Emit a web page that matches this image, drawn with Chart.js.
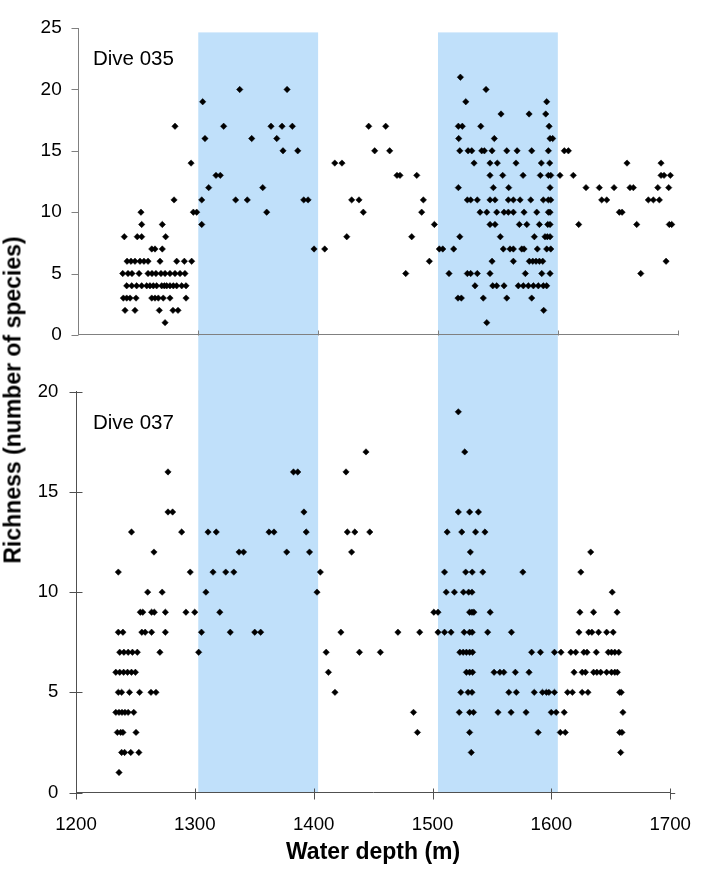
<!DOCTYPE html>
<html><head><meta charset="utf-8">
<script src="https://cdn.jsdelivr.net/npm/chart.js@4.4.1/dist/chart.umd.min.js"></script>
<style>
html,body{margin:0;padding:0;background:#fff;}
#wrap{position:relative;width:712px;height:870px;overflow:hidden;font-family:'Liberation Sans',Arial,sans-serif;}
canvas{position:absolute;left:0;}
#c1{top:0;} #c2{top:363px;}
.lbl{position:absolute;font-size:20.5px;line-height:1;color:#000;white-space:nowrap;}
#ytitle{position:absolute;font-weight:bold;font-size:23px;line-height:1;white-space:nowrap;color:#000;
  left:13px;top:400px;transform:translate(-50%,-50%) rotate(-90deg);}
</style></head><body>
<div id="wrap">
<canvas id="c1" width="712" height="363"></canvas>
<canvas id="c2" width="712" height="507"></canvas>
<div class="lbl" style="left:93px;top:47.6px">Dive 035</div>
<div class="lbl" style="left:93px;top:411.6px">Dive 037</div>
<div id="ytitle">Richness (number of species)</div>
</div>
<script>
// ---------- data ----------
const xTicks = [1200, 1300, 1400, 1500, 1600, 1700];
const yTicks035 = [0, 5, 10, 15, 20, 25];
const yTicks037 = [0, 5, 10, 15, 20];
const shadedDepths = [[1300, 1400], [1500, 1600]];

// Dive 035: richness levels and water depths (m) observed at each level
const dive035Richness = [1, 2, 3, 4, 5, 6, 7, 8, 9, 10, 11, 12, 13, 14, 15, 16, 17, 18, 19, 20, 21];
const dive035Depths = [
  [1272.3, 1540.7],
  [1238.9, 1247.2, 1267.5, 1278.9, 1283.1, 1588.2],
  [1237.5, 1240.3, 1243.1, 1248.1, 1261.2, 1263.9, 1266.7, 1270.8, 1276.4, 1289.8, 1516.7, 1519.5, 1537.8, 1557.4, 1578.2],
  [1240.3, 1244.5, 1248.6, 1252.8, 1257.0, 1259.7, 1262.5, 1265.3, 1269.5, 1271.7, 1273.7, 1276.4, 1279.2, 1282.0, 1286.2, 1289.8, 1530.9, 1545.7, 1549.0, 1555.1, 1567.0, 1571.2, 1575.4, 1579.6, 1583.7, 1587.9, 1590.7],
  [1237.0, 1241.4, 1244.7, 1250.6, 1258.1, 1261.4, 1264.7, 1268.9, 1272.3, 1276.4, 1280.6, 1284.8, 1288.9, 1473.1, 1509.2, 1524.5, 1527.3, 1532.8, 1543.4, 1572.9, 1586.6, 1593.5, 1669.2],
  [1240.6, 1243.9, 1247.2, 1251.4, 1254.7, 1258.1, 1268.1, 1282.0, 1288.4, 1294.5, 1492.8, 1545.1, 1562.9, 1576.2, 1579.1, 1581.8, 1584.6, 1587.4, 1690.3],
  [1261.2, 1263.9, 1270.0, 1396.6, 1405.5, 1501.1, 1504.0, 1513.1, 1554.5, 1560.1, 1562.9, 1569.9, 1571.8, 1582.9, 1590.7, 1594.1],
  [1238.3, 1249.1, 1252.8, 1272.8, 1423.9, 1478.1, 1518.2, 1552.0, 1580.4, 1589.3, 1591.2, 1593.5],
  [1252.8, 1270.0, 1302.9, 1497.0, 1543.4, 1547.6, 1567.9, 1574.1, 1584.6, 1591.6, 1593.5, 1617.4, 1665.8, 1693.0, 1695.0],
  [1252.2, 1295.9, 1298.7, 1357.1, 1437.7, 1486.4, 1535.1, 1540.7, 1549.0, 1555.1, 1558.7, 1562.9, 1571.8, 1582.4, 1592.1, 1593.5, 1651.3, 1653.6],
  [1279.8, 1302.9, 1331.2, 1340.9, 1388.0, 1391.6, 1428.0, 1434.1, 1487.8, 1524.5, 1527.3, 1532.8, 1543.4, 1547.6, 1558.7, 1562.9, 1568.5, 1577.4, 1587.9, 1592.1, 1594.1, 1636.6, 1640.8, 1675.5, 1679.7, 1684.7],
  [1308.7, 1353.8, 1517.0, 1546.2, 1559.0, 1593.5, 1623.5, 1634.6, 1646.9, 1660.2, 1663.0, 1683.4, 1692.5],
  [1314.8, 1318.4, 1465.8, 1468.3, 1482.3, 1543.4, 1554.0, 1571.0, 1585.4, 1592.1, 1594.1, 1601.8, 1612.9, 1686.1, 1688.6, 1693.9],
  [1294.0, 1413.9, 1419.9, 1530.1, 1543.4, 1549.5, 1565.1, 1586.2, 1593.2, 1657.7, 1686.1],
  [1370.7, 1383.0, 1447.2, 1459.7, 1518.2, 1525.1, 1528.2, 1536.5, 1538.7, 1545.1, 1557.4, 1566.0, 1578.2, 1592.1, 1605.4, 1608.8],
  [1305.6, 1344.6, 1365.5, 1517.3, 1547.0, 1593.5, 1595.7],
  [1280.6, 1321.2, 1360.7, 1369.9, 1378.5, 1442.2, 1456.4, 1517.0, 1520.3, 1535.7, 1592.7],
  [1552.6, 1576.0, 1589.9],
  [1303.7, 1523.2, 1590.7],
  [1334.6, 1374.1, 1540.1],
  [1518.7]
];

// Dive 037: richness levels and water depths (m) observed at each level
const dive037Richness = [1, 2, 3, 4, 5, 6, 7, 8, 9, 10, 11, 12, 13, 14, 16, 17, 19];
const dive037Depths = [
  [1236.2],
  [1238.4, 1240.9, 1246.1, 1252.9, 1532.6, 1658.3],
  [1234.8, 1237.6, 1239.5, 1250.5, 1487.3, 1531.2, 1588.9, 1607.5, 1611.7, 1657.5, 1659.4],
  [1233.5, 1236.2, 1238.7, 1241.2, 1243.9, 1248.6, 1484.0, 1522.5, 1531.2, 1534.5, 1555.1, 1566.1, 1578.7, 1599.9, 1604.0, 1610.8, 1660.2],
  [1235.6, 1238.4, 1245.0, 1253.5, 1263.1, 1267.3, 1417.9, 1523.8, 1529.9, 1533.2, 1564.2, 1570.5, 1585.6, 1592.5, 1595.8, 1597.9, 1602.6, 1613.6, 1617.7, 1625.9, 1630.8, 1657.5, 1658.8],
  [1233.5, 1236.8, 1240.1, 1243.4, 1246.7, 1250.0, 1412.4, 1528.5, 1531.2, 1533.7, 1551.8, 1556.7, 1560.0, 1569.7, 1581.2, 1619.1, 1625.9, 1628.7, 1635.5, 1638.3, 1641.5, 1646.5, 1650.6, 1653.4, 1655.5],
  [1236.8, 1240.3, 1243.9, 1247.5, 1251.6, 1270.6, 1303.2, 1410.5, 1438.5, 1456.1, 1523.0, 1525.8, 1528.5, 1531.2, 1533.7, 1583.4, 1590.8, 1602.6, 1608.1, 1616.4, 1620.5, 1627.3, 1630.0, 1637.8, 1647.9, 1650.6, 1653.4, 1656.7],
  [1235.6, 1239.5, 1255.4, 1258.2, 1263.6, 1275.2, 1305.6, 1329.8, 1350.4, 1355.4, 1422.9, 1470.9, 1489.2, 1504.6, 1510.1, 1515.6, 1526.6, 1531.2, 1533.4, 1546.4, 1566.4, 1623.2, 1631.4, 1634.1, 1639.7, 1646.5, 1652.0],
  [1254.1, 1256.2, 1263.6, 1265.9, 1275.2, 1292.5, 1299.9, 1321.0, 1501.1, 1504.6, 1531.2, 1533.2, 1534.8, 1548.5, 1624.0, 1635.5, 1655.3],
  [1260.3, 1272.5, 1309.3, 1402.8, 1511.5, 1518.4, 1526.0, 1530.4, 1533.2, 1651.2],
  [1235.6, 1296.1, 1315.3, 1326.0, 1332.8, 1405.6, 1510.1, 1527.9, 1533.4, 1542.3, 1576.0, 1624.8],
  [1265.6, 1337.2, 1341.0, 1377.3, 1396.5, 1431.9, 1531.8, 1633.1],
  [1246.7, 1288.9, 1311.1, 1318.0, 1362.4, 1366.6, 1393.7, 1428.3, 1434.6, 1447.2, 1512.3, 1524.6, 1536.2, 1544.1],
  [1277.4, 1281.3, 1391.8, 1521.7, 1531.2, 1538.6],
  [1277.4, 1383.0, 1386.6, 1427.2],
  [1444.0, 1527.1],
  [1521.7]
];

// ---------- helpers ----------
const FONT = "'Liberation Sans', Arial, sans-serif";
function toPoints(levels, depths) {
  const pts = [];
  levels.forEach((r, i) => depths[i].forEach(d => pts.push({x: d, y: r})));
  return pts;
}

const bandPlugin = {
  id: 'bands',
  beforeDraw(chart, args, opts) {
    const ref = opts.refChart ? opts.refChart() : chart;
    const xs = ref.scales.x;
    const ctx = chart.ctx;
    const top = opts.top(chart), bottom = opts.bottom(chart);
    ctx.save();
    ctx.fillStyle = opts.color;
    shadedDepths.forEach(([a, b]) => {
      const x1 = xs.getPixelForValue(a), x2 = xs.getPixelForValue(b);
      ctx.fillRect(x1, top, x2 - x1, bottom - top);
    });
    ctx.restore();
  }
};

const tickPlugin = {
  id: 'tickmarks',
  afterDraw(chart, args, o) {
    const ctx = chart.ctx, xs = chart.scales.x, ys = chart.scales.y;
    ctx.save();
    ctx.strokeStyle = o.color;
    ctx.lineWidth = 1;
    ctx.beginPath();
    const ax = Math.round(xs.left) + 0.5;
    ys.ticks.forEach(t => {
      const y = Math.round(ys.getPixelForValue(t.value)) + 0.5;
      ctx.moveTo(ax - o.yOut, y); ctx.lineTo(ax + o.yIn, y);
    });
    const ay = Math.round(ys.bottom) + 0.5;
    xs.ticks.forEach(t => {
      if (t.value === xTicks[0] && !o.firstX) return;
      const x = Math.round(xs.getPixelForValue(t.value)) + 0.5;
      ctx.moveTo(x, ay + o.xOut); ctx.lineTo(x, ay - o.xIn);
    });
    if (o.xExtend) { ctx.moveTo(xs.right, ay); ctx.lineTo(xs.right + o.xExtend, ay); }
    ctx.stroke();
    ctx.restore();
  }
};

function makeOptions(cfg) {
  return {
    responsive: false,
    animation: false,
    devicePixelRatio: 1,
    events: [],
    layout: {autoPadding: false, padding: cfg.padding},
    plugins: {
      legend: {display: false},
      tooltip: {enabled: false},
      bands: cfg.bands,
      tickmarks: cfg.ticks
    },
    scales: {
      x: {
        type: 'linear', position: 'bottom', min: 1200, max: 1700,
        afterBuildTicks: s => { s.ticks = xTicks.map(v => ({value: v})); },
        afterFit: s => { s.height = cfg.xHeight; },
        grid: {display: false, drawTicks: false},
        border: {display: true, color: cfg.axisColor, width: 1},
        ticks: {display: cfg.showX, padding: 21, color: '#000', font: {family: FONT, size: 18.7},
                callback: v => String(v)},
        title: cfg.xTitle
      },
      y: {
        type: 'linear', position: 'left', min: 0, max: cfg.yMax,
        afterBuildTicks: s => { s.ticks = cfg.yTicks.map(v => ({value: v})); },
        afterFit: s => { s.width = cfg.yWidth; },
        grid: {display: false, drawTicks: false},
        border: {display: true, color: cfg.axisColor, width: 1},
        ticks: {padding: cfg.yPad, color: '#000', font: {family: FONT, size: cfg.yFont},
                callback: v => String(v)}
      }
    }
  };
}

const pointStyle = {
  pointStyle: 'rectRot', pointRadius: 3.2, pointHoverRadius: 3.2,
  backgroundColor: '#000', borderColor: '#000', borderWidth: 0.5, showLine: false
};

const BAND_COLOR = 'rgb(192,224,250)';

const topChart = new Chart(document.getElementById('c1'), {
  type: 'scatter',
  data: {datasets: [Object.assign({label: 'Dive 035', data: toPoints(dive035Richness, dive035Depths)}, pointStyle)]},
  options: makeOptions({
    padding: {left: 0, right: 34.3, top: 11.7, bottom: 0},
    xHeight: 18, yWidth: 78.4, yMax: 25, yTicks: yTicks035, yPad: 16.7, yFont: 19,
    axisColor: '#808080', showX: false, xTitle: {display: false},
    bands: {color: BAND_COLOR, top: c => c.scales.y.getPixelForValue(24.65), bottom: c => c.height},
    ticks: {color: '#808080', yOut: 7, yIn: 0, xOut: 0, xIn: 5, firstX: false, xExtend: 0}
  }),
  plugins: [bandPlugin, tickPlugin]
});

const bottomChart = new Chart(document.getElementById('c2'), {
  type: 'scatter',
  data: {datasets: [Object.assign({label: 'Dive 037', data: toPoints(dive037Richness, dive037Depths)}, pointStyle)]},
  options: makeOptions({
    padding: {left: 0, right: 28.7, top: 18.7, bottom: 0},
    xHeight: 77.5, yWidth: 76, yMax: 20, yTicks: yTicks037, yPad: 17.7, yFont: 18.5,
    axisColor: '#505050', showX: true,
    xTitle: {display: true, text: 'Water depth (m)', color: '#000', padding: {top: 0, bottom: 4},
             font: {family: FONT, size: 23, weight: 'bold'}},
    bands: {color: BAND_COLOR, refChart: () => topChart, top: c => 0, bottom: c => c.chartArea.bottom},
    ticks: {color: '#505050', yOut: 7, yIn: 6, xOut: 6, xIn: 5, firstX: true, xExtend: 5}
  }),
  plugins: [bandPlugin, tickPlugin]
});
</script>
</body></html>
